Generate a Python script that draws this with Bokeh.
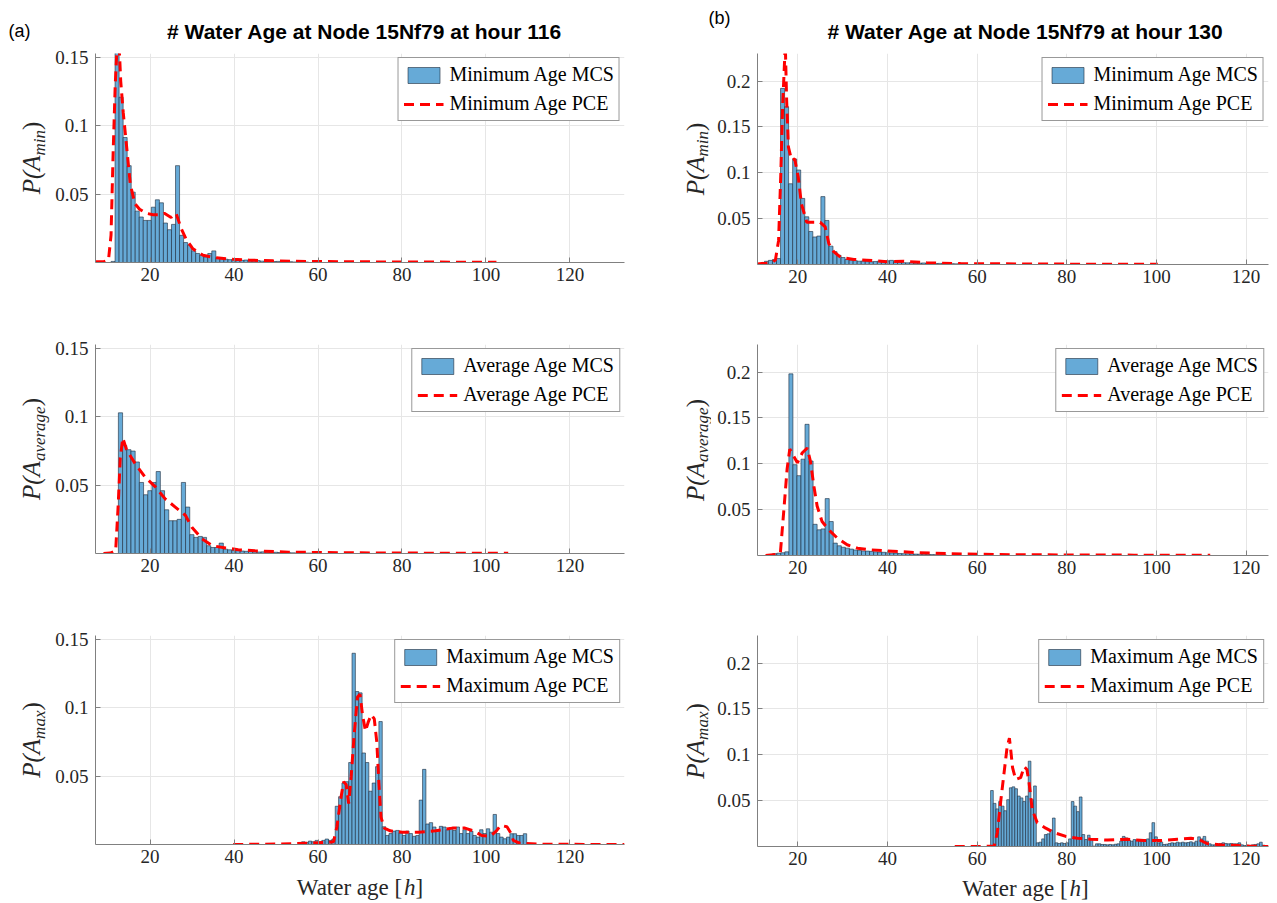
import numpy as np
from bokeh.plotting import figure
from bokeh.models import Range1d, FixedTicker, NumeralTickFormatter
from bokeh.core.properties import value
from bokeh.layouts import row, column
from bokeh.embed import file_html
from bokeh.resources import INLINE

# ---------------- data ----------------
x_ticks = [20, 40, 60, 80, 100, 120]
y_ticks_a = [0.05, 0.1, 0.15]
y_ticks_b = [0.05, 0.1, 0.15, 0.2]
x_lim_a = (7, 133)
x_lim_b = (11, 125)
y_lim_a = (0, 0.153)
y_lim_b = (0, 0.23)

titles = ["# Water Age at Node 15Nf79 at hour 116", "# Water Age at Node 15Nf79 at hour 130"]
panel_tags = ["(a)", "(b)"]
series_names = ["Minimum", "Average", "Maximum"]
y_subscripts = ["min", "average", "max"]
x_label_parts = ["Water age [", "h", "]"]

# ---- hour 116 ----
a_min_bin_start, a_min_bin_width = 10.70, 0.96
a_min_mcs = [0.0008, 0.16, 0.121, 0.0915, 0.0709, 0.0515, 0.0376, 0.0333, 0.0308, 0.0308,
             0.0405, 0.0459, 0.0437, 0.0289, 0.0240, 0.0279, 0.0709, 0.0199, 0.0146, 0.0126,
             0.0085, 0.0066, 0.0053, 0.0041, 0.0066, 0.0085, 0.0036, 0.0029, 0.0024, 0.0021,
             0.0023, 0.0017, 0.0016, 0.0018, 0.0013, 0.0012, 0.0014, 0.0010, 0.0009, 0.0010,
             0.0007, 0.0008, 0.0006, 0.0005, 0.0006, 0.0004, 0.0003, 0.0004, 0.0003]
a_min_pce_x = [7.0, 9.0, 10.1, 10.7, 11.2, 11.7, 12.4, 13.0, 13.6, 14.5, 15.3, 16.4, 17.5, 19.1,
               20.7, 22.3, 23.4, 25.0, 26.2, 27.4, 28.6, 30.2, 32.6, 35.8, 39.8, 43.7, 49.3,
               57.2, 69.1, 85.0, 102.5]
a_min_pce_y = [0.0005, 0.0006, 0.002, 0.02, 0.08, 0.13, 0.175, 0.133, 0.11, 0.082, 0.057, 0.043,
               0.039, 0.036, 0.035, 0.035, 0.036, 0.033, 0.036, 0.025, 0.017, 0.010, 0.0053,
               0.0034, 0.0024, 0.0017, 0.0012, 0.0008, 0.0005, 0.0003, 0.0002]

a_avg_bin_start, a_avg_bin_width = 12.45, 1.0
a_avg_mcs = [0.103, 0.079, 0.076, 0.075, 0.067, 0.052, 0.043, 0.046, 0.052, 0.060,
             0.046, 0.032, 0.024, 0.024, 0.025, 0.052, 0.034, 0.0138, 0.0118, 0.0125,
             0.0118, 0.0057, 0.0044, 0.0044, 0.0076, 0.0032, 0.0027, 0.0022, 0.0024, 0.0018,
             0.0016, 0.0017, 0.0013, 0.0011, 0.0012, 0.0009, 0.0008, 0.0009, 0.0007, 0.0006,
             0.0006, 0.0005, 0.0004, 0.0004, 0.0003, 0.0003]
a_avg_pce_x = [8.9, 10.5, 11.8, 12.4, 12.9, 13.5, 14.4, 16.4, 18.8, 21.2, 23.6, 26.0, 28.4,
               30.0, 32.4, 34.8, 38.0, 41.0, 45.0, 53.0, 65.0, 80.0, 95.0, 105.3]
a_avg_pce_y = [0.0, 0.0003, 0.002, 0.035, 0.07, 0.0845, 0.076, 0.066, 0.056, 0.049, 0.040,
               0.034, 0.028, 0.019, 0.0106, 0.0057, 0.004, 0.0028, 0.002, 0.001, 0.0006,
               0.0003, 0.0002, 0.0001]

a_max_bin_start, a_max_bin_width = 56.1, 0.8
a_max_mcs = [0.002, 0.0015, 0.0025, 0.002, 0.003, 0.002, 0.003, 0.004, 0.003, 0.004,
             0.028, 0.035, 0.045, 0.046, 0.060, 0.140, 0.112, 0.111, 0.067, 0.060,
             0.039, 0.045, 0.057, 0.090, 0.013, 0.0066, 0.008, 0.0098, 0.0103, 0.0084,
             0.0066, 0.0098, 0.008, 0.006, 0.0066, 0.0325, 0.055, 0.015, 0.016, 0.0128,
             0.0103, 0.0133, 0.0128, 0.0108, 0.0123, 0.0103, 0.0128, 0.008, 0.0108, 0.008,
             0.0098, 0.0066, 0.0054, 0.0108, 0.008, 0.0115, 0.009, 0.022, 0.008, 0.0054,
             0.0042, 0.0054, 0.0079, 0.0079, 0.0066, 0.0066, 0.0079]
a_max_pce_x = [39.8, 50.0, 58.0, 62.0, 63.7, 64.5, 65.5, 66.1, 66.7, 67.3, 67.9, 68.6, 69.4,
               70.0, 70.6, 71.3, 72.0, 72.7, 73.4, 74.0, 74.5, 75.0, 75.8, 77.2, 80.0, 84.0,
               88.0, 92.0, 95.0, 97.0, 99.0, 101.0, 102.5, 103.5, 105.0, 106.0, 106.5, 108.0,
               112.0, 120.0, 133.0]
a_max_pce_y = [0.0, 0.0003, 0.001, 0.0015, 0.002, 0.013, 0.035, 0.046, 0.044, 0.030, 0.050,
               0.080, 0.108, 0.110, 0.095, 0.083, 0.090, 0.095, 0.092, 0.075, 0.045, 0.020,
               0.012, 0.010, 0.009, 0.009, 0.010, 0.012, 0.012, 0.010, 0.0066, 0.006, 0.010,
               0.014, 0.013, 0.008, 0.003, 0.001, 0.0003, 0.0001, 0.0]

# ---- hour 130 ----
b_min_bin_start, b_min_bin_width = 12.54, 0.9
b_min_mcs = [0.0035, 0.0045, 0.0055, 0.0065, 0.192, 0.172, 0.088, 0.115, 0.103, 0.072,
             0.052, 0.036, 0.030, 0.031, 0.074, 0.048, 0.020, 0.014, 0.010, 0.0076,
             0.0054, 0.0047, 0.0042, 0.0036, 0.0038, 0.0032, 0.003, 0.0033, 0.0036, 0.003,
             0.004, 0.0045, 0.003, 0.0026, 0.002, 0.0018, 0.0022, 0.0016, 0.0015, 0.0017,
             0.0013, 0.0012, 0.0011, 0.0012, 0.0009, 0.0008, 0.0009, 0.0007, 0.0006]
b_min_pce_x = [11.0, 13.0, 14.5, 15.0, 15.7, 16.2, 16.6, 17.2, 17.5, 17.9, 18.6, 19.3, 20.1,
               20.8, 22.0, 23.5, 25.0, 26.1, 26.9, 28.0, 29.5, 32.5, 35.4, 39.9, 43.6, 48.8,
               56.3, 70.0, 85.0, 100.3]
b_min_pce_y = [0.0005, 0.0015, 0.003, 0.005, 0.026, 0.099, 0.172, 0.24, 0.179, 0.128, 0.114,
               0.115, 0.095, 0.066, 0.046, 0.046, 0.046, 0.041, 0.023, 0.014, 0.008, 0.0055,
               0.0047, 0.003, 0.0036, 0.0018, 0.001, 0.0006, 0.0003, 0.0002]

b_avg_bin_start, b_avg_bin_width = 14.4, 0.9
b_avg_mcs = [0.002, 0.0025, 0.003, 0.004, 0.198, 0.099, 0.087, 0.105, 0.143, 0.103,
             0.034, 0.028, 0.029, 0.062, 0.037, 0.0135, 0.0106, 0.009, 0.008, 0.007,
             0.006, 0.0055, 0.005, 0.0048, 0.0045, 0.004, 0.0037, 0.0035, 0.003, 0.0028,
             0.0026, 0.0022, 0.002, 0.0019, 0.0017, 0.0015, 0.0014, 0.0012, 0.0011, 0.001,
             0.0009, 0.0008, 0.0007]
b_avg_pce_x = [12.8, 15.0, 16.1, 17.0, 17.6, 18.2, 19.1, 19.9, 21.0, 22.1, 22.8, 23.6, 24.3,
               25.4, 26.9, 28.8, 31.0, 33.3, 36.3, 40.0, 46.0, 53.4, 65.0, 80.0, 95.0, 112.0]
b_avg_pce_y = [0.0, 0.001, 0.0026, 0.057, 0.094, 0.116, 0.108, 0.101, 0.112, 0.117, 0.103,
               0.075, 0.054, 0.037, 0.028, 0.019, 0.0117, 0.008, 0.0062, 0.005, 0.0033,
               0.002, 0.001, 0.0006, 0.0004, 0.0002]

b_max_bin_start, b_max_bin_width = 63.0, 0.6
b_max_mcs = [0.061, 0.047, 0.041, 0.049, 0.044, 0.039, 0.051, 0.064, 0.065, 0.063,
             0.055, 0.053, 0.049, 0.055, 0.093, 0.051, 0.066, 0.0040, 0.0047, 0.0083,
             0.013, 0.0138, 0.018, 0.031, 0.0040, 0.0033, 0.0040, 0.0033, 0.0040, 0.0083,
             0.049, 0.044, 0.038, 0.054, 0.013, 0.0076, 0.0123, 0.0076, 0.0004, 0.0029,
             0.0029, 0.0022, 0.0022, 0.0018, 0.0022, 0.0018, 0.0025, 0.0029, 0.0058, 0.011,
             0.0094, 0.0069, 0.0058, 0.0076, 0.0069, 0.0058, 0.0076, 0.0069, 0.0083, 0.015,
             0.026, 0.0105, 0.0040, 0.0047, 0.0022, 0.0025, 0.0033, 0.0040, 0.0036, 0.0047,
             0.0040, 0.0047, 0.0040, 0.0043, 0.0051, 0.0040, 0.0058, 0.0105, 0.0083, 0.011,
             0.0058, 0.0029, 0.0018, 0.0018, 0.0022, 0.0033, 0.0040, 0.0033, 0.0029, 0.0033,
             0.0029, 0.0029, 0.0040, 0.0018, 0.0011, 0.0014, 0.0011, 0.0018, 0.0022, 0.0029,
             0.0047, 0.0014]
b_max_pce_x = [55.0, 60.0, 63.8, 64.5, 65.3, 66.0, 66.7, 67.2, 67.5, 67.9, 68.6, 69.7, 70.5,
               71.1, 71.6, 72.3, 73.4, 75.3, 77.2, 79.8, 82.4, 85.3, 89.1, 93.5, 97.2, 101.0,
               104.7, 107.7, 109.5, 111.4, 115.1, 118.1, 121.0, 125.0]
b_max_pce_y = [0.0, 0.0, 0.0005, 0.015, 0.051, 0.080, 0.109, 0.118, 0.105, 0.086, 0.073,
               0.075, 0.087, 0.084, 0.069, 0.040, 0.026, 0.020, 0.015, 0.011, 0.009, 0.008,
               0.007, 0.008, 0.0065, 0.0065, 0.008, 0.009, 0.0075, 0.003, 0.0015, 0.0011,
               0.0004, 0.0]

# ---------------- style / layout constants ----------------
BAR_FILL = "#66AAD7"
BAR_LINE = "#1c2a3a"
PCE_COLOR = "#FF0000"
GRID = "#E6E6E6"
AXIS = "#808080"
TXT = "#262626"
SERIF = "Liberation Serif"
SANS = "Liberation Sans"

TOP_H = 43          # strip holding titles
BOT_H = 27          # strip holding x labels
L_STRIP_W, R_STRIP_W = 52, 72
L_FW, L_FH, L_BL, L_BR = 529, 209, 43, 15
R_FW, R_FH, R_BL, R_BR = 511, 211, 46, 3
L_TOPS, L_BOTS = [10, 42, 42], [40, 40, 30]
R_TOPS, R_BOTS = [10, 42, 42], [38, 38, 28]


def make_panel(idx, start, width, mcs, px, py, fw, fh, bl, br, bt, bb, xlim, ylim, yticks):
    p = figure(frame_width=fw, frame_height=fh, min_border_left=bl, min_border_right=br,
               min_border_top=bt, min_border_bottom=bb, x_range=Range1d(*xlim),
               y_range=Range1d(*ylim), output_backend="svg", toolbar_location=None,
               background_fill_color="white", border_fill_color="white")
    p.outline_line_color = None
    edges = start + width * np.arange(len(mcs) + 1)
    name = series_names[idx]
    p.quad(left=edges[:-1], right=edges[1:], bottom=0, top=mcs, fill_color=BAR_FILL,
           line_color=BAR_LINE, line_width=0.6, legend_label=f"{name} Age MCS")
    p.line(px, py, line_color=PCE_COLOR, line_width=3, line_dash="10 6",
           legend_label=f"{name} Age PCE")

    for ax in (p.xaxis[0], p.yaxis[0]):
        ax.axis_line_color = AXIS
        ax.major_tick_line_color = AXIS
        ax.major_tick_in = 5
        ax.major_tick_out = 0
        ax.minor_tick_line_color = None
        ax.major_label_text_font = SERIF
        ax.major_label_text_font_size = "19px"
        ax.major_label_text_color = TXT
    p.xaxis.ticker = FixedTicker(ticks=x_ticks)
    p.yaxis.ticker = FixedTicker(ticks=yticks)
    p.xaxis.formatter = NumeralTickFormatter(format="0")
    p.yaxis.formatter = NumeralTickFormatter(format="0.[00]")
    p.xaxis.major_label_standoff = 5
    p.yaxis.major_label_standoff = 7
    p.xgrid.ticker = FixedTicker(ticks=x_ticks)
    p.ygrid.ticker = FixedTicker(ticks=yticks)
    p.grid.grid_line_color = GRID
    p.grid.grid_line_width = 1

    lg = p.legend[0]
    lg.location = "top_right"
    lg.margin = 4
    lg.padding = 5
    lg.spacing = 6
    lg.glyph_width = 40
    lg.glyph_height = 20
    lg.label_height = 20
    lg.label_standoff = 6
    lg.label_text_font = SERIF
    lg.label_text_font_size = "20px"
    lg.label_text_color = "black"
    lg.border_line_color = "#333333"
    lg.border_line_width = 1
    lg.background_fill_alpha = 1.0
    return p


def strip(w, h):
    f = figure(width=w, height=h, x_range=Range1d(0, w), y_range=Range1d(0, h),
               min_border=0, toolbar_location=None, output_backend="svg",
               x_axis_type=None, y_axis_type=None, background_fill_color="white",
               border_fill_color="white")
    f.grid.visible = False
    f.outline_line_color = None
    return f


def ylabel_strip(w, tops, bots, fh, mid_x):
    h = sum(tops) + sum(bots) + 3 * fh
    f = strip(w, h)
    big, small = 25, 17
    y_top = 0
    for i in range(3):
        y_top += tops[i]
        center = h - (y_top + fh / 2)
        y_top += fh + bots[i]
        w1 = 1.555 * big
        w2 = {"min": 1.5, "average": 3.221, "max": 1.666}[y_subscripts[i]] * small
        w3 = 0.333 * big
        y0 = center - (w1 + w2 + w3) / 2
        f.text(x=[mid_x], y=[y0], text=["P(A"], angle=np.pi / 2, text_font=value(SERIF),
               text_font_style="italic", text_font_size=value(f"{big}px"), text_color=TXT,
               text_align="left", text_baseline="middle")
        f.text(x=[mid_x + 7.5], y=[y0 + w1], text=[y_subscripts[i]], angle=np.pi / 2,
               text_font=value(SERIF), text_font_style="italic",
               text_font_size=value(f"{small}px"), text_color=TXT, text_align="left",
               text_baseline="middle")
        f.text(x=[mid_x], y=[y0 + w1 + w2], text=[")"], angle=np.pi / 2,
               text_font=value(SERIF), text_font_size=value(f"{big}px"), text_color=TXT,
               text_align="left", text_baseline="middle")
    return f


left_data = [(a_min_bin_start, a_min_bin_width, a_min_mcs, a_min_pce_x, a_min_pce_y),
             (a_avg_bin_start, a_avg_bin_width, a_avg_mcs, a_avg_pce_x, a_avg_pce_y),
             (a_max_bin_start, a_max_bin_width, a_max_mcs, a_max_pce_x, a_max_pce_y)]
right_data = [(b_min_bin_start, b_min_bin_width, b_min_mcs, b_min_pce_x, b_min_pce_y),
              (b_avg_bin_start, b_avg_bin_width, b_avg_mcs, b_avg_pce_x, b_avg_pce_y),
              (b_max_bin_start, b_max_bin_width, b_max_mcs, b_max_pce_x, b_max_pce_y)]

left_figs = [make_panel(i, *d, fw=L_FW, fh=L_FH, bl=L_BL, br=L_BR, bt=L_TOPS[i], bb=L_BOTS[i],
                        xlim=x_lim_a, ylim=y_lim_a, yticks=y_ticks_a)
             for i, d in enumerate(left_data)]
right_figs = [make_panel(i, *d, fw=R_FW, fh=R_FH, bl=R_BL, br=R_BR, bt=R_TOPS[i], bb=R_BOTS[i],
                         xlim=x_lim_b, ylim=y_lim_b, yticks=y_ticks_b)
              for i, d in enumerate(right_data)]

yl_left = ylabel_strip(L_STRIP_W, L_TOPS, L_BOTS, L_FH, mid_x=31)
yl_right = ylabel_strip(R_STRIP_W, R_TOPS, R_BOTS, R_FH, mid_x=55.5)

total_w = L_STRIP_W + L_BL + L_FW + L_BR + R_STRIP_W + R_BL + R_FW + R_BR
left_frame_x = L_STRIP_W + L_BL
right_frame_x = L_STRIP_W + L_BL + L_FW + L_BR + R_STRIP_W + R_BL

# top strip: panel tags and titles
top = strip(total_w, TOP_H)
top.text(x=[8, 708], y=[12.5, 25.5], text=panel_tags, text_font=value(SANS),
         text_font_size=value("18px"), text_color="black", text_align="left",
         text_baseline="middle")
top.text(x=[left_frame_x + 269, right_frame_x + 268], y=[12, 12], text=titles,
         text_font=value(SANS), text_font_style="bold", text_font_size=value("21px"),
         text_color="black", text_align="center", text_baseline="middle")

# bottom strip: x labels "Water age [h]"
bot = strip(total_w, BOT_H)
fs = 23
wa, wh = 4.664 * fs, 0.5 * fs
wb = 0.333 * fs
for cx, by in ((left_frame_x + L_FW / 2, 14), (right_frame_x + 268, 13)):
    x0 = cx - (wa + wh + wb) / 2
    bot.text(x=[x0, x0 + wa + wh], y=[by, by], text=[x_label_parts[0], x_label_parts[2]],
             text_font=value(SERIF), text_font_size=value(f"{fs}px"), text_color=TXT,
             text_align="left", text_baseline="middle")
    bot.text(x=[x0 + wa], y=[by], text=[x_label_parts[1]], text_font=value(SERIF),
             text_font_style="italic", text_font_size=value(f"{fs}px"), text_color=TXT,
             text_align="left", text_baseline="middle")

middle = row(yl_left, column(*left_figs), yl_right, column(*right_figs))
layout = column(top, middle, bot)
open("out.html", "w").write(file_html(layout, INLINE))
